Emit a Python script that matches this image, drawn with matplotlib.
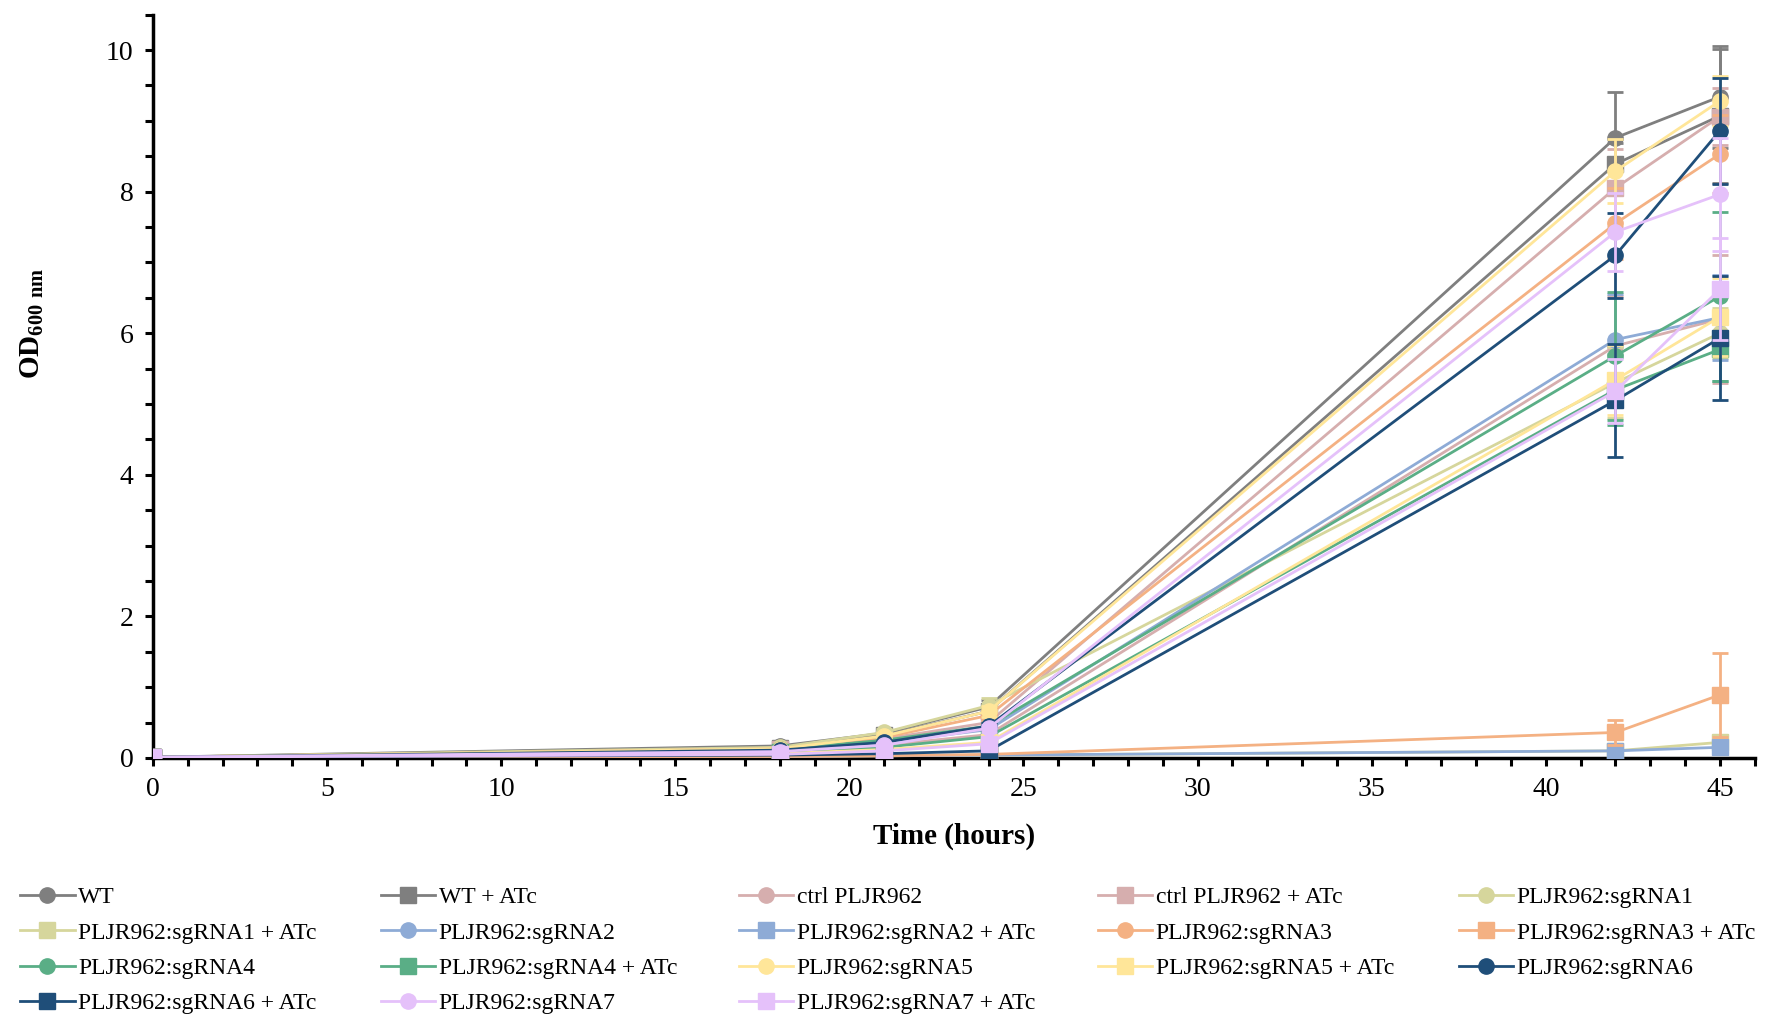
import matplotlib

matplotlib.use("Agg")

import matplotlib.pyplot as plt
from matplotlib.ticker import MultipleLocator

plt.rcParams["font.family"] = ["Liberation Serif", "DejaVu Serif"]
plt.rcParams["mathtext.fontset"] = "custom"
plt.rcParams["mathtext.rm"] = "Liberation Serif"
plt.rcParams["mathtext.bf"] = "Liberation Serif:bold"

# =========================
# Data: OD600 growth curves
# =========================
time_h = [0, 18, 21, 24, 42, 45]

labels = [
    "WT", "WT + ATc", "ctrl PLJR962", "ctrl PLJR962 + ATc",
    "PLJR962:sgRNA1", "PLJR962:sgRNA1 + ATc",
    "PLJR962:sgRNA2", "PLJR962:sgRNA2 + ATc",
    "PLJR962:sgRNA3", "PLJR962:sgRNA3 + ATc",
    "PLJR962:sgRNA4", "PLJR962:sgRNA4 + ATc",
    "PLJR962:sgRNA5", "PLJR962:sgRNA5 + ATc",
    "PLJR962:sgRNA6", "PLJR962:sgRNA6 + ATc",
    "PLJR962:sgRNA7", "PLJR962:sgRNA7 + ATc",
]

od_wt = [0.01, 0.17, 0.35, 0.72, 8.76, 9.34]
od_wt_atc = [0.01, 0.14, 0.32, 0.66, 8.39, 9.07]
od_ctrl = [0.01, 0.10, 0.18, 0.33, 5.82, 6.20]
od_ctrl_atc = [0.01, 0.12, 0.27, 0.50, 8.05, 9.06]
od_sg1 = [0.01, 0.15, 0.36, 0.74, 5.30, 6.00]
od_sg1_atc = [0.01, 0.02, 0.03, 0.04, 0.10, 0.22]
od_sg2 = [0.01, 0.10, 0.22, 0.40, 5.91, 6.22]
od_sg2_atc = [0.01, 0.02, 0.03, 0.04, 0.10, 0.15]
od_sg3 = [0.01, 0.13, 0.29, 0.60, 7.55, 8.53]
od_sg3_atc = [0.01, 0.02, 0.03, 0.05, 0.36, 0.89]
od_sg4 = [0.01, 0.12, 0.25, 0.45, 5.68, 6.52]
od_sg4_atc = [0.01, 0.08, 0.15, 0.30, 5.20, 5.77]
od_sg5 = [0.01, 0.13, 0.31, 0.66, 8.29, 9.28]
od_sg5_atc = [0.01, 0.06, 0.12, 0.22, 5.34, 6.23]
od_sg6 = [0.01, 0.11, 0.22, 0.45, 7.10, 8.86]
od_sg6_atc = [0.01, 0.04, 0.06, 0.10, 5.05, 5.93]
od_sg7 = [0.01, 0.09, 0.18, 0.42, 7.43, 7.96]
od_sg7_atc = [0.01, 0.05, 0.10, 0.20, 5.18, 6.62]

err_wt = [0.0, 0.03, 0.04, 0.10, 0.65, 0.72]
err_wt_atc = [0.0, 0.03, 0.04, 0.08, 0.30, 0.95]
err_ctrl = [0.0, 0.02, 0.03, 0.05, 0.70, 0.90]
err_ctrl_atc = [0.0, 0.02, 0.04, 0.06, 0.55, 0.40]
err_sg1 = [0.0, 0.03, 0.05, 0.10, 0.50, 0.35]
err_sg1_atc = [0.0, 0.01, 0.01, 0.01, 0.02, 0.04]
err_sg2 = [0.0, 0.02, 0.03, 0.05, 0.65, 0.60]
err_sg2_atc = [0.0, 0.01, 0.01, 0.01, 0.02, 0.03]
err_sg3 = [0.0, 0.03, 0.04, 0.07, 0.50, 0.55]
err_sg3_atc = [0.0, 0.01, 0.01, 0.02, 0.18, 0.59]
err_sg4 = [0.0, 0.02, 0.03, 0.05, 0.90, 1.19]
err_sg4_atc = [0.0, 0.02, 0.03, 0.05, 0.50, 0.44]
err_sg5 = [0.0, 0.03, 0.04, 0.08, 0.45, 0.35]
err_sg5_atc = [0.0, 0.02, 0.03, 0.04, 0.50, 0.55]
err_sg6 = [0.0, 0.02, 0.03, 0.05, 0.60, 0.75]
err_sg6_atc = [0.0, 0.01, 0.02, 0.03, 0.80, 0.88]
err_sg7 = [0.0, 0.02, 0.03, 0.05, 0.55, 0.80]
err_sg7_atc = [0.0, 0.02, 0.03, 0.04, 0.45, 0.72]

values = [
    od_wt, od_wt_atc, od_ctrl, od_ctrl_atc, od_sg1, od_sg1_atc,
    od_sg2, od_sg2_atc, od_sg3, od_sg3_atc, od_sg4, od_sg4_atc,
    od_sg5, od_sg5_atc, od_sg6, od_sg6_atc, od_sg7, od_sg7_atc,
]
errors = [
    err_wt, err_wt_atc, err_ctrl, err_ctrl_atc, err_sg1, err_sg1_atc,
    err_sg2, err_sg2_atc, err_sg3, err_sg3_atc, err_sg4, err_sg4_atc,
    err_sg5, err_sg5_atc, err_sg6, err_sg6_atc, err_sg7, err_sg7_atc,
]

# =========================
# Styles
# =========================
base_colors = [
    "#7f7f7f",  # WT
    "#d6aeae",  # ctrl
    "#d6d69c",  # sgRNA1
    "#8eabd6",  # sgRNA2
    "#f4b183",  # sgRNA3
    "#5aae86",  # sgRNA4
    "#ffe699",  # sgRNA5
    "#1f4e79",  # sgRNA6
    "#e5c1fa",  # sgRNA7
]
colors = [c for c in base_colors for _ in range(2)]
markers = ["o", "s"] * 9

fig = plt.figure(figsize=(17.66, 10.16), dpi=100)
ax = fig.add_axes([0.0866, 0.254, 0.907, 0.7316])

handles = []
for i, (y, e) in enumerate(zip(values, errors)):
    ax.errorbar(
        time_h, y, yerr=e, fmt="none", ecolor=colors[i],
        elinewidth=2.0, capsize=6, capthick=2.0, zorder=2 + i * 0.1,
    )
    (line,) = ax.plot(
        time_h, y, marker=markers[i], color=colors[i], linewidth=2.0,
        markersize=11, markeredgecolor=colors[i], zorder=2.05 + i * 0.1,
    )
    handles.append(line)

# =========================
# Axes
# =========================
ax.set_xlim(0, 46)
ax.set_ylim(0, 10.5)
ax.xaxis.set_major_locator(MultipleLocator(5))
ax.xaxis.set_minor_locator(MultipleLocator(1))
ax.yaxis.set_major_locator(MultipleLocator(2))
ax.yaxis.set_minor_locator(MultipleLocator(0.5))

for side in ["top", "right"]:
    ax.spines[side].set_visible(False)
for side in ["left", "bottom"]:
    ax.spines[side].set_linewidth(2.5)

ax.tick_params(which="both", direction="out", width=2.2, length=6, labelsize=20, pad=8)

ax.set_xlabel("Time (hours)", fontsize=21, fontweight="bold")
ax.xaxis.set_label_coords(0.5, -0.087)
ax.set_ylabel(r"$\mathbf{OD_{600\ nm}}$", fontsize=21)
ax.yaxis.set_label_coords(-0.067, 0.584)

# =========================
# Legend: 5 columns, row-major order
# =========================
col_x = [0.0115, 0.2156, 0.4184, 0.6217, 0.826]
for c in range(5):
    fig.legend(
        handles[c::5], labels[c::5],
        loc="upper left", bbox_to_anchor=(col_x[c], 0.127),
        frameon=False, fontsize=17, handlelength=2.3, handletextpad=0.15,
        labelspacing=0.58, borderpad=0, borderaxespad=0,
    )

plt.savefig("out.png", dpi=100)
plt.close()
